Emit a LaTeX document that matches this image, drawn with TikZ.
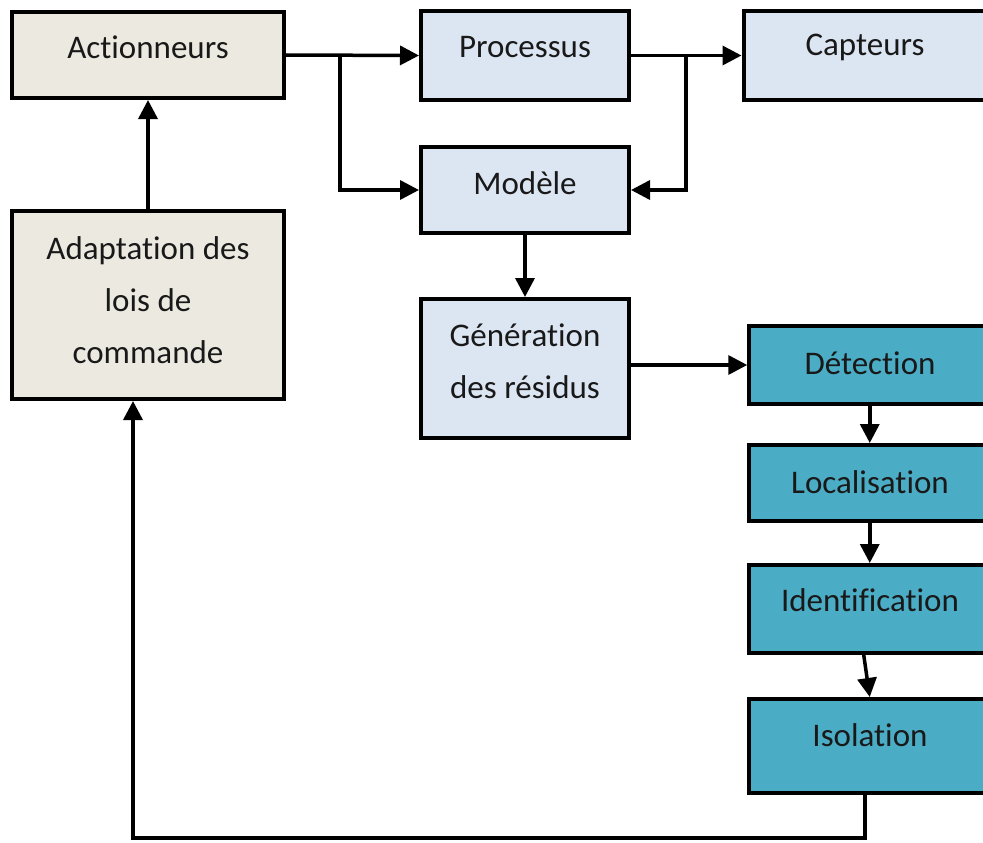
\documentclass[tikz,border=0pt]{standalone}
\usepackage{fontspec}
\setmainfont{Carlito}[Ligatures=NoCommon]
\usetikzlibrary{arrows.meta}
\definecolor{beige}{HTML}{ECEAE0}
\definecolor{lblue}{HTML}{DCE6F2}
\definecolor{aqua}{HTML}{4BACC6}
\tikzset{
  box/.style={draw=black, line width=4pt, inner sep=0pt, rectangle},
  txt/.style={inner sep=0pt, align=center, font=\fontsize{33}{52}\selectfont, text=black!90},
  arr/.style={line width=3.5pt, -{Triangle[length=19pt,width=19pt]}},
}
\begin{document}
\begin{tikzpicture}[x=1pt,y=-1pt]
\useasboundingbox (0,0) rectangle (983,843);
\begin{scope}
\clip (0,0) rectangle (983,843);
% boxes
\node[box, fill=beige, minimum width=272pt, minimum height=86pt] (act) at (148,55) {};
\node[box, fill=lblue, minimum width=208pt, minimum height=89pt] (proc) at (525,55.5) {};
\node[box, fill=lblue, minimum width=246pt, minimum height=89pt] (cap) at (866.5,55.5) {};
\node[box, fill=lblue, minimum width=208pt, minimum height=86pt] (mod) at (525,190) {};
\node[box, fill=beige, minimum width=272pt, minimum height=188pt] (adapt) at (148,305) {};
\node[box, fill=lblue, minimum width=208pt, minimum height=139pt] (gen) at (525,368.5) {};
\node[box, fill=aqua, minimum width=241pt, minimum height=78pt] (det) at (869.75,365) {};
\node[box, fill=aqua, minimum width=241pt, minimum height=76pt] (loc) at (869.75,483) {};
\node[box, fill=aqua, minimum width=241pt, minimum height=88pt] (ide) at (869.75,609) {};
\node[box, fill=aqua, minimum width=241pt, minimum height=94pt] (iso) at (869.75,746) {};
% texts
\node[txt] (act-t) at (148,47) {Actionneurs};
\node[txt] (proc-t) at (525,47) {Processus};
\node[txt] (cap-t) at (865,47) {Capteurs};
\node[txt] (mod-t) at (525,183) {Modèle};
\node[txt] (adapt-t) at (148,300) {Adaptation des\\lois de\\commande};
\node[txt] (gen-t) at (525,361) {Génération\\des résidus};
\node[txt] (det-t) at (870,363) {Détection};
\node[txt] (loc-t) at (870,482) {Localisation};
\node[txt] (ide-t) at (870,600) {Identification};
\node[txt] (iso-t) at (870,735) {Isolation};
% connectors
\coordinate (j1) at (340,55);
\coordinate (j2) at (686,55.5);
\coordinate (corner) at (133,838);
\draw[arr] (act.east) -- (proc.west);
\draw[arr] (j1) |- (mod.west);
\draw[arr] (proc.east) -- (cap.west);
\draw[arr] (j2) |- (mod.east);
\draw[arr] (mod.south) -- (gen.north);
\draw[arr] (gen.east |- det.west) -- (det.west);
\draw[arr] (det.south) -- (loc.north);
\draw[arr] (loc.south) -- (ide.north);
\draw[arr] ([xshift=-6pt]ide.south) -- (iso.north);
\draw[arr] ([xshift=-5pt]iso.south) |- (corner) -- (corner |- adapt.south);
\draw[arr] (adapt.north) -- (act.south);
\end{scope}
\end{tikzpicture}
\end{document}
